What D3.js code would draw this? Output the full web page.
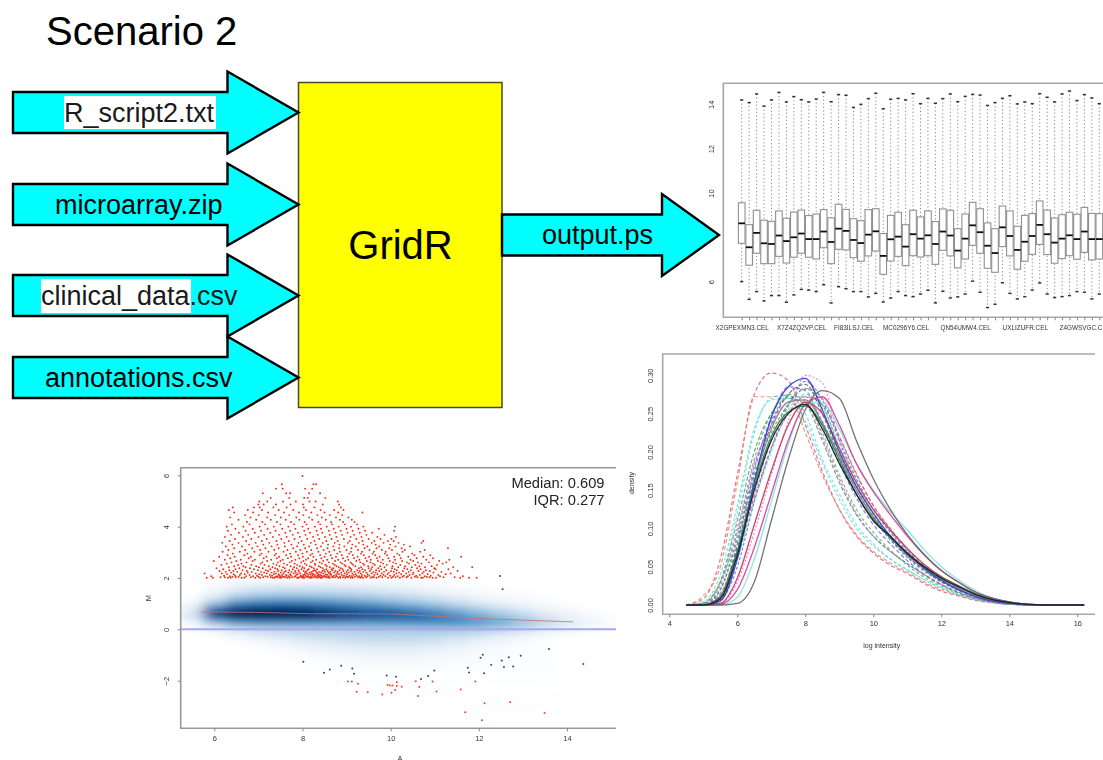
<!DOCTYPE html>
<html>
<head>
<meta charset="utf-8">
<script src="https://cdn.jsdelivr.net/npm/d3@7"></script>
<style>
  html, body { margin: 0; padding: 0; background: #fff; overflow: hidden; }
  text { font-family: "Liberation Sans", Arial, sans-serif; }
</style>
</head>
<body>
<div id="chart"></div>
<script>
// flow diagram
const inputNames = ["R_script2.txt", "microarray.zip", "clinical_data.csv", "annotations.csv"];
const inputTipY = [112.5, 204.5, 295.5, 377.5];
const inputTextX = [64, 55, 41, 45];

// boxplot, one entry per array
const boxTop = [14.20,14.08,14.47,13.92,14.20,14.54,14.11,14.35,14.21,14.11,14.24,14.54,14.12,14.44,14.41,13.86,14.00,14.26,14.50,13.80,14.23,14.27,14.20,14.48,14.03,14.27,14.05,14.26,14.47,14.12,14.36,14.45,14.42,13.95,14.08,14.27,14.39,14.02,14.11,14.03,14.48,14.32,14.11,14.47,14.60,14.17,14.44,14.29,14.03];
const boxQ3 = [9.56,8.57,9.22,8.77,8.72,9.19,8.86,9.14,9.23,8.98,9.05,9.25,8.88,9.49,9.26,8.84,8.75,9.25,9.29,8.17,8.99,9.13,8.57,9.22,8.92,9.19,8.71,9.28,9.22,8.39,9.05,9.58,9.29,8.65,8.39,9.41,9.19,8.50,8.99,9.07,9.64,9.23,8.87,9.02,9.13,9.04,9.35,9.08,9.07];
const boxMedian = [8.63,7.55,8.20,7.73,7.70,8.08,7.83,8.00,8.17,7.92,7.92,8.26,7.79,8.39,8.29,7.88,7.74,8.12,8.27,7.16,7.91,8.03,7.58,8.14,7.94,8.09,7.70,8.26,8.08,7.40,7.94,8.54,8.23,7.62,7.29,8.45,8.06,7.43,7.80,8.06,8.56,8.14,7.76,7.94,8.09,7.92,8.26,7.92,7.92];
const boxQ1 = [7.73,6.74,7.28,6.81,6.81,7.14,6.84,7.10,7.28,7.10,7.02,7.53,6.81,7.46,7.43,7.08,6.92,7.16,7.38,6.33,6.93,7.14,6.72,7.17,7.11,7.17,6.78,7.41,7.16,6.62,7.02,7.64,7.28,6.60,6.42,7.58,7.16,6.56,6.92,7.23,7.68,7.22,6.83,7.04,7.17,7.01,7.32,6.98,7.02];
const boxBottom = [6.00,5.20,5.55,5.13,5.37,5.37,5.07,5.40,5.65,5.62,5.55,5.86,5.04,5.77,5.68,5.55,5.55,5.31,5.47,5.08,5.26,5.55,5.37,5.32,5.44,5.61,5.04,5.56,5.26,5.31,5.44,6.02,5.52,4.83,4.98,5.95,5.47,5.22,5.32,5.62,5.94,5.44,5.28,5.32,5.37,5.55,5.52,5.22,5.44];
const boxLabelAt = [0, 8, 15, 22, 30, 38, 46];
const boxLabels = ["X2GPEXMN3.CEL", "X7Z4ZQ2VP.CEL", "FI83ILSJ.CEL", "MC0296Y6.CEL", "QN54UMW4.CEL", "UXLIZUFR.CEL", "Z4GWSVGC.CEL"];
const boxYTicks = [6, 8, 10, 12, 14];

// density curves, all read at the same intensities
const densityX = [4.5,5,5.5,6,6.5,7,7.5,8,8.5,9,9.5,10,10.5,11,11.5,12,12.5,13,13.5,14,15,16.2];
const densityCurves = [
  [0,.008,.06,.17,.275,.303,.293,.235,.175,.125,.09,.068,.052,.041,.028,.018,.012,.006,.003,.001,0,0],
  [0,.012,.05,.16,.272,.272,.275,.225,.17,.125,.092,.07,.055,.043,.03,.02,.013,.007,.003,.001,0,0],
  [0,.002,.03,.12,.225,.27,.274,.25,.19,.145,.105,.08,.06,.046,.033,.022,.014,.008,.004,.001,0,0],
  [0,.003,.03,.095,.19,.25,.275,.265,.225,.17,.125,.095,.072,.052,.036,.024,.015,.008,.004,.001,0,0],
  [0,0,.012,.08,.175,.245,.285,.28,.235,.185,.14,.105,.08,.058,.04,.027,.016,.009,.004,.001,0,0],
  [0,0,.002,.03,.095,.17,.24,.3,.29,.215,.16,.12,.09,.068,.048,.033,.022,.012,.006,.002,0,0],
  [0,0,.007,.06,.145,.215,.262,.283,.27,.22,.17,.13,.098,.072,.05,.034,.022,.012,.006,.002,0,0],
  [0,0,.02,.09,.18,.24,.272,.272,.24,.19,.145,.112,.085,.062,.044,.03,.019,.011,.005,.002,0,0],
  [0,.001,.02,.085,.17,.225,.262,.282,.262,.205,.155,.118,.088,.065,.046,.031,.02,.011,.005,.002,0,0],
  [0,.001,.012,.06,.135,.2,.255,.275,.258,.21,.163,.125,.095,.07,.05,.034,.022,.012,.006,.002,0,0],
  [0,.001,.015,.07,.14,.205,.25,.272,.262,.22,.172,.13,.1,.073,.052,.036,.024,.013,.006,.002,0,0],
  [0,0,.012,.075,.165,.235,.275,.288,.25,.195,.15,.115,.087,.064,.046,.031,.02,.011,.005,.002,0,0],
  [0,0,.006,.05,.135,.205,.26,.292,.268,.215,.165,.125,.095,.07,.05,.034,.022,.012,.006,.002,0,0],
  [0,.001,.025,.1,.185,.235,.265,.268,.22,.165,.12,.09,.07,.054,.04,.027,.017,.009,.004,.001,0,0],
  [0,.002,.03,.11,.2,.25,.27,.262,.215,.16,.118,.09,.07,.054,.039,.026,.017,.009,.004,.001,0,0],
  [0,.004,.04,.13,.23,.268,.27,.24,.185,.138,.1,.077,.06,.046,.033,.022,.014,.008,.004,.001,0,0],
  [0,0,0,.01,.06,.135,.21,.262,.265,.23,.185,.15,.122,.098,.072,.05,.033,.019,.009,.004,0,0],
  [0,0,.001,.02,.075,.145,.215,.262,.272,.235,.185,.148,.118,.09,.065,.045,.03,.017,.009,.004,0,0],
  [0,0,.002,.035,.105,.175,.235,.265,.25,.205,.16,.125,.098,.074,.053,.037,.025,.014,.007,.003,0,0],
  [0,0,.01,.07,.16,.23,.265,.268,.238,.195,.15,.115,.088,.065,.047,.033,.022,.012,.006,.002,0,0],
  [0,0,.01,.07,.155,.22,.252,.26,.235,.19,.145,.112,.088,.068,.05,.036,.025,.015,.008,.003,0,0],
  [0,0,.005,.06,.16,.245,.285,.296,.255,.2,.155,.12,.09,.068,.048,.032,.02,.011,.005,.002,0,0],
  [0,0,0,.002,.03,.11,.19,.255,.28,.27,.215,.165,.125,.092,.066,.045,.03,.017,.009,.004,0,0],
  [0,0,.008,.065,.15,.215,.25,.262,.23,.185,.145,.11,.09,.067,.05,.035,.024,.014,.007,.003,0,0]
];
const densityColors = ["#e0507a","#e8805a","#55dcdc","#4fae6a","#5a6fd8","#f060e0","#8a8a8a","#5a6fd8","#3f9a60","#55dcdc","#e0507a","#555555","#5a6fd8","#e858c8","#3f9a60","#55dcdc","#7fe6e6","#e0409a","#c83a50","#888888","#1f8a3a","#3a3fd0","#6a6a6a","#1c1c30"];
const densityDashes = ["4 2.5","4 2.5","3 2.5","3 2.5","4 2.5","2 2","4 2.5","3 2","3 2","3 2","4 2","4 2","3 2","3 2","4 2","3 2","","","","","","","",""];
const densityXTicks = [4, 6, 8, 10, 12, 14, 16];
const densityYTicks = [0, .05, .1, .15, .2, .25, .3];

// MA plot: smoothed point density, rows by M, columns by A
const smearA = [5.5,6,6.5,7,7.5,8,8.5,9,9.5,10,10.5,11,11.5,12,12.5,13,13.5,14,14.5,15];
const smearM = [1.75,1.5,1.25,1,.75,.5,.25,0,-.25,-.5,-.75,-1,-1.25,-1.5,-2,-2.5,-3];
const smear = [
  [0,.02,.05,.07,.08,.08,.08,.07,.06,.05,.03,.02,.01,.01,0,0,0,0,0,0],
  [0,.04,.1,.14,.16,.16,.15,.14,.12,.1,.08,.05,.03,.02,.01,.01,0,0,0,0],
  [.01,.1,.24,.3,.32,.32,.3,.27,.24,.2,.16,.12,.08,.05,.03,.02,.01,0,0,0],
  [.03,.28,.5,.56,.58,.56,.52,.47,.42,.36,.3,.24,.17,.11,.07,.04,.02,.01,0,0],
  [.1,.7,.95,1,1,.96,.85,.74,.66,.6,.52,.44,.34,.25,.17,.11,.06,.03,.01,0],
  [.12,.72,1,1,1,1,.92,.82,.74,.7,.64,.56,.48,.38,.29,.2,.12,.07,.03,.01],
  [.04,.26,.42,.46,.46,.46,.45,.44,.44,.44,.46,.46,.46,.42,.36,.27,.18,.1,.05,.02],
  [.01,.06,.14,.18,.2,.21,.21,.22,.23,.24,.25,.26,.26,.24,.2,.15,.09,.05,.02,.01],
  [0,.01,.04,.08,.11,.14,.16,.17,.18,.18,.18,.17,.15,.12,.08,.05,.02,.01,0,0],
  [0,0,.01,.03,.05,.08,.1,.12,.13,.13,.13,.12,.09,.06,.04,.02,.01,0,0,0],
  [0,0,0,.01,.02,.04,.06,.07,.08,.08,.08,.07,.05,.03,.02,.01,.01,0,0,0],
  [0,0,0,0,.01,.02,.03,.04,.05,.05,.05,.04,.03,.02,.02,.01,.01,0,0,0],
  [0,0,0,0,0,.01,.01,.02,.03,.03,.03,.02,.02,.02,.01,.01,.01,0,0,0],
  [0,0,0,0,0,0,.01,.01,.02,.02,.02,.02,.01,.01,.01,.01,.01,0,0,0],
  [0,0,0,0,0,0,0,.01,.01,.01,.01,.01,.01,.01,.01,.01,.01,0,0,0],
  [0,0,0,0,0,0,0,0,0,.01,.01,.01,0,.01,.01,.01,.01,0,0,0],
  [0,0,0,0,0,0,0,0,0,0,0,0,.01,.01,.01,.01,.01,0,0,0]
];

// red outliers above the band, A values listed per M level
const redM = [2.01,2.03,2.05,2.07,2.09,2.12,2.15,2.18,2.21,2.24,2.27,2.3,2.34,2.38,2.42,2.46,2.51,2.56,2.61,2.66,2.71,2.77,2.83,2.89,2.95,3.02,3.09,3.16,3.23,3.3,3.37,3.44,3.52,3.6,3.68,3.76,3.84,3.92,4,4.09,4.18,4.27,4.36,4.45,4.55,4.65,4.75,4.86,4.98,5.12,5.3,5.48,5.65,5.97];
const redA = [
  [5.83,5.97,6.31,6.37,6.62,6.68,6.93,7.04,7.33,7.37,7.49,7.52,7.66,7.71,7.88,7.9,8,8.04,8.17,8.21,8.33,8.41,8.44,8.58,8.62,8.81,8.86,8.97,9.09,9.14,9.31,9.37,9.55,9.68,9.94,10.02,10.21,10.47,10.69,10.73,10.95,11.03,11.58,11.78,11.95],
  [6.14,6.24,6.49,6.83,7.11,7.28,7.44,7.61,7.77,7.93,8.03,8.15,8.26,8.37,8.52,8.69,8.74,8.92,9.02,9.26,9.44,9.62,9.81,10.11,10.36,10.61,10.88,11.2,11.45],
  [6.41,6.55,7,7.21,7.39,7.55,7.58,7.82,7.97,8.09,8.12,8.29,8.46,8.55,8.67,8.85,9.04,9.19,9.34,9.59,9.73,10.05,10.27,10.55,10.82],
  [5.93,6.35,6.72,6.88,7.16,7.42,7.5,7.69,7.84,8.01,8.19,8.31,8.39,8.48,8.6,8.78,8.99,9.12,9.29,9.47,9.88,10.16,10.39,10.77,11.12,11.64],
  [6.22,6.47,6.97,7.31,7.47,7.64,7.74,7.96,8.07,8.23,8.35,8.43,8.5,8.71,8.94,9.07,9.23,9.41,9.52,9.77,9.99,10.3,10.58,10.91],
  [6.58,6.8,7.08,7.26,7.54,7.63,7.86,8.02,8.13,8.28,8.4,8.56,8.65,8.76,8.89,9.16,9.35,9.63,9.84,10.08,10.43,10.66,11.08],
  [6.29,6.44,6.69,7.02,7.35,7.46,7.72,7.89,8.05,8.18,8.25,8.36,8.53,8.64,8.83,9.01,9.21,9.48,9.7,9.93,10.24,10.5,10.84,11.25],
  [5.78,6.17,6.61,6.94,7.19,7.4,7.57,7.8,7.95,8.1,8.22,8.34,8.47,8.61,8.79,8.96,9.13,9.32,9.57,9.8,10.13,10.35,10.72,11.36],
  [6.38,6.76,7.13,7.3,7.51,7.68,7.85,8.06,8.16,8.32,8.42,8.59,8.72,8.88,9.05,9.27,9.45,9.66,9.96,10.19,10.52,10.97],
  [6.26,6.52,6.85,7.06,7.36,7.59,7.75,7.92,8.08,8.2,8.38,8.51,8.63,8.8,9,9.18,9.38,9.61,9.85,10.07,10.41,10.75,11.15],
  [6.12,6.43,6.74,7.22,7.45,7.62,7.83,8.03,8.24,8.3,8.45,8.57,8.75,8.93,9.1,9.3,9.53,9.74,10.01,10.28,10.63,10.89,11.52],
  [6.34,6.64,6.99,7.17,7.53,7.7,7.91,8.11,8.27,8.49,8.68,8.84,9.03,9.24,9.42,9.67,9.9,10.14,10.46,10.8],
  [6.2,6.48,6.9,7.27,7.43,7.78,7.98,8.14,8.33,8.54,8.66,8.91,9.11,9.36,9.56,9.79,10.09,10.38,10.68,11.02,11.31],
  [6.05,6.57,6.81,7.1,7.38,7.6,7.87,8.04,8.26,8.46,8.7,8.87,9.08,9.28,9.5,9.72,10.03,10.31,10.6,10.99],
  [6.33,6.71,7.01,7.32,7.56,7.81,8,8.21,8.41,8.62,8.82,9.06,9.33,9.58,9.86,10.17,10.48,10.78,11.42,11.85],
  [6.45,6.66,6.95,7.24,7.48,7.73,7.94,8.17,8.37,8.55,8.77,8.98,9.2,9.49,9.76,10.04,10.33,10.65,10.93],
  [6.16,6.54,6.84,7.14,7.41,7.65,7.88,8.09,8.29,8.52,8.73,8.95,9.15,9.4,9.64,9.91,10.22,10.56,11.05],
  [6.28,6.62,7.05,7.34,7.58,7.82,8.05,8.28,8.44,8.69,8.9,9.12,9.37,9.6,9.83,10.12,10.42,10.7,11.18],
  [6.39,6.73,7.09,7.44,7.71,7.97,8.19,8.39,8.6,8.86,9.09,9.31,9.54,9.78,10.06,10.37,10.62,10.87,11.26],
  [5.99,6.5,6.87,7.2,7.5,7.76,8.02,8.23,8.47,8.74,8.97,9.22,9.46,9.71,9.98,10.26,10.51,11.1],
  [6.24,6.6,6.92,7.29,7.55,7.84,8.08,8.31,8.56,8.81,9.04,9.29,9.55,9.82,10.1,10.45,10.81,11.33],
  [6.36,6.78,7.12,7.42,7.67,7.93,8.13,8.43,8.67,8.92,9.17,9.43,9.69,9.95,10.23,10.59,10.96],
  [6.11,6.46,6.83,7.18,7.47,7.74,8.01,8.25,8.5,8.76,9.02,9.25,9.51,9.75,10.08,10.4,10.74,11.6],
  [6.3,6.68,7.03,7.37,7.63,7.9,8.18,8.4,8.64,8.89,9.14,9.39,9.65,9.92,10.2,10.54,10.9],
  [6.42,6.75,7.07,7.4,7.72,8,8.22,8.53,8.79,9.06,9.33,9.59,9.87,10.15,10.49],
  [6.19,6.58,6.91,7.23,7.57,7.85,8.1,8.36,8.61,8.85,9.1,9.35,9.62,9.89,10.27,10.67],
  [6.32,6.7,7.04,7.36,7.66,7.95,8.2,8.48,8.72,9,9.26,9.52,9.8,10.03,10.32,10.77],
  [6.45,6.86,7.16,7.46,7.79,8.06,8.33,8.57,8.83,9.11,9.41,9.68,9.97,10.25,11.3],
  [6.26,6.63,6.98,7.3,7.6,7.88,8.15,8.42,8.7,8.95,9.21,9.47,9.74,10.11,10.44],
  [6.41,6.79,7.11,7.43,7.75,8.03,8.3,8.58,8.84,9.13,9.38,9.66,9.99,10.3],
  [6.18,6.55,6.94,7.25,7.59,7.91,8.19,8.46,8.73,9.03,9.28,9.57,9.84,10.18,10.7],
  [6.35,6.72,7.08,7.41,7.69,7.98,8.27,8.54,8.8,9.07,9.36,9.63,9.94,10.07,10.74],
  [6.47,6.84,7.19,7.52,7.82,8.11,8.38,8.66,8.94,9.22,9.5,9.77,10.02],
  [6.24,6.65,7,7.33,7.64,7.94,8.24,8.51,8.77,9.09,9.34,9.7,10.12],
  [6.38,6.77,7.13,7.47,7.78,8.07,8.35,8.62,8.9,9.17,9.45,9.86],
  [6.56,6.92,7.27,7.61,7.9,8.17,8.45,8.75,9.02,9.3,9.58],
  [6.31,6.71,7.06,7.39,7.72,8.04,8.32,8.6,8.87,9.14,9.42,10.08],
  [6.48,6.87,7.21,7.54,7.84,8.13,8.42,8.71,9,9.27,9.73],
  [6.28,6.66,7.03,7.35,7.68,8,8.28,8.55,8.82,9.1,9.38,10.1],
  [6.4,6.8,7.15,7.5,7.81,8.09,8.4,8.67,8.96,9.24],
  [6.74,7.09,7.42,7.74,8.05,8.36,8.65,8.92,9.18],
  [6.55,6.95,7.28,7.62,7.93,8.22,8.53,8.85,9.12],
  [6.36,6.82,7.2,7.51,7.86,8.15,8.44,8.76,9.04],
  [6.7,7.01,7.38,7.7,8.02,8.34,8.62,8.9],
  [6.45,6.88,7.22,7.58,7.92,8.2,8.5,8.81,9.36],
  [6.33,6.76,7.08,7.46,7.79,8.08,8.41,8.72,8.93],
  [6.42,6.9,7.03,7.34,7.64,8.03,8.27,8.87],
  [7,7.12,7.4,7.73,8.01,8.46,8.83],
  [7.02,7.2,7.56,7.85,8.16,8.3,8.8],
  [7.28,7.7,8.04,8.12,8.52],
  [7.1,7.63,7.72,8.15,8.4],
  [7.4,7.55,8.06,8.22],
  [7.53,8.25,8.31],
  [8]
];

const lowM = [-2.03,-2.03,-2.12,-2.43,-2.45,-2.54,-2.16,-2.19,-2.19,-2.06,-2.21,-2.24,-2.47,-2.36,-2.02,-2.25,-2.6,-2.03,-2.42,-2.34,-2.03,-3.23,-2.88,-3.54,-2.84,-3.26];
const lowA = [9.03,9.12,9.26,9.23,9.48,9.81,9.93,9.98,10.04,10.14,10.14,10.25,10.02,10.1,10.57,10.65,10.62,10.95,11.04,11.59,11.92,11.69,12.13,12.07,12.71,13.49];
const darkM = [-1.26,-1.56,-1.69,-1.42,-1.52,-1.73,-1.8,-1.85,-1.93,-1.82,-1.6,-1.5,-1.68,-1.11,-.99,-1.71,-1.38,-1.21,-1.47,-1.09,-1.45,-1.03,-.77,-1.35,1.56,2.08];
const darkA = [8.02,8.62,8.49,8.88,9.13,9.17,9.91,10.12,10.69,10.85,10.99,11.75,11.78,12.04,12.09,12.12,12.28,12.52,12.57,12.68,12.78,12.95,13.59,14.37,12.54,12.48];

const loessA = [5.71,7,8.2,10,12.03,14.14];
const loessM = [.68,.66,.61,.6,.42,.29];
const maXTicks = [6, 8, 10, 12, 14];
const maYTicks = [-2, 0, 2, 4, 6];
const maNotes = ["Median: 0.609", "IQR: 0.277"];

const svg = d3.select("#chart").append("svg")
  .attr("width", 1103)
  .attr("height", 760)
  .style("display", "block");

const defs = svg.append("defs");
function addBlur(id, dev) {
  defs.append("filter").attr("id", id)
    .attr("x", 0).attr("y", 0).attr("width", 1103).attr("height", 760)
    .attr("filterUnits", "userSpaceOnUse")
    .append("feGaussianBlur").attr("stdDeviation", dev);
}
addBlur("soft", 0.75);
addBlur("text-soft", 0.35);
addBlur("smear", "7 3");
defs.append("clipPath").attr("id", "maClip").append("rect")
  .attr("x", 181).attr("y", 468).attr("width", 435).attr("height", 260);

// style the small R axes the same way
function rAxis(g, rotate, gap) {
  g.selectAll("text").attr("font-size", 7.5).attr("fill", "#333");
  g.selectAll("line").attr("stroke", "#888");
  g.select(".domain").remove();
  if (rotate) g.selectAll("text").attr("transform", "rotate(-90)").attr("x", 0).attr("y", -gap).attr("dx", 0).attr("dy", 0).attr("text-anchor", "middle");
}

// ---- MA plot ----
const ma = svg.append("g").attr("filter", "url(#soft)");
const maX = d3.scaleLinear().domain([6, 14]).range([214.3, 567]);
const maY = d3.scaleLinear().domain([-2, 6]).range([680.7, 475.3]);
const smearColor = d3.scaleLinear()
  .domain([0, .1, .3, .6, 1])
  .range(["#ffffff", "#dde9f5", "#8dbbdd", "#1c69ad", "#04275c"]);

ma.append("g").attr("clip-path", "url(#maClip)")
  .append("g").attr("filter", "url(#smear)")
  .selectAll("g")
  .data(smear)
  .join("g")
  .each(function (row, i) {
    d3.select(this).selectAll("rect")
      .data(row.map((v, j) => ({v: v, a: smearA[j], m: smearM[i]})).filter(d => d.v > 0))
      .join("rect")
      .attr("x", d => maX(d.a - .25))
      .attr("width", maX(.5) - maX(0) + .5)
      .attr("y", d => maY(d.m + .125))
      .attr("height", maY(0) - maY(.25) + .5)
      .attr("fill", d => smearColor(d.v));
  });

ma.append("g").selectAll("circle")
  .data(redA.flatMap((row, i) => row.map(a => [a, redM[i]])))
  .join("circle")
  .attr("cx", d => maX(d[0]))
  .attr("cy", d => maY(d[1]))
  .attr("r", .95)
  .attr("fill", "#f02c14");
ma.append("g").selectAll("circle")
  .data(lowA)
  .join("circle")
  .attr("cx", d => maX(d))
  .attr("cy", (d, i) => maY(lowM[i]))
  .attr("r", 1)
  .attr("fill", "#f2452c");
ma.append("g").selectAll("circle")
  .data(darkA)
  .join("circle")
  .attr("cx", d => maX(d))
  .attr("cy", (d, i) => maY(darkM[i]))
  .attr("r", 1)
  .attr("fill", "#33475a");

ma.append("line")
  .attr("x1", 181).attr("x2", 616)
  .attr("y1", maY(0)).attr("y2", maY(0))
  .attr("stroke", "#a6a8f0").attr("stroke-width", 2);
ma.append("path")
  .attr("fill", "none")
  .attr("stroke", "#c8706e")
  .attr("stroke-width", 1)
  .attr("stroke-opacity", .8)
  .attr("d", d3.line().x(d => maX(d)).y((d, i) => maY(loessM[i]))(loessA));

ma.append("path")
  .attr("fill", "none").attr("stroke", "#999").attr("stroke-width", 1.6)
  .attr("d", "M616,467.7H180.7V728.3H616");

ma.append("g").attr("transform", "translate(0,728.3)")
  .call(d3.axisBottom(maX).tickValues(maXTicks).tickSize(3).tickFormat(d3.format("d")))
  .call(g => rAxis(g, false))
  .call(g => g.selectAll("text").attr("y", 7));
ma.append("g").attr("transform", "translate(180.7,0)")
  .call(d3.axisLeft(maY).tickValues(maYTicks).tickSize(3).tickFormat(d3.format("d")))
  .call(g => rAxis(g, true, 11.5));
ma.append("text").attr("x", 400).attr("y", 761).attr("font-size", 7.5).attr("text-anchor", "middle").attr("fill", "#333").text("A");
ma.append("text").attr("transform", "translate(151,598) rotate(-90)").attr("font-size", 7.5).attr("text-anchor", "middle").attr("fill", "#333").text("M");

svg.append("g").attr("filter", "url(#text-soft)").selectAll("text")
  .data(maNotes)
  .join("text")
  .attr("x", 604.5)
  .attr("y", (d, i) => 487.5 + i * 17)
  .attr("text-anchor", "end")
  .attr("font-size", 14.7)
  .attr("fill", "#222")
  .text(d => d);

// ---- boxplot ----
const bp = svg.append("g").attr("filter", "url(#soft)");
const bpX = d3.scaleLinear().domain([0, 48]).range([741.7, 1099.3]);
const bpY = d3.scaleLinear().domain([4.39, 14.95]).range([317.3, 83.3]);
const boxIdx = d3.range(boxMedian.length);

bp.append("path")
  .attr("fill", "none").attr("stroke", "#a8a8a8").attr("stroke-width", 1.6)
  .attr("d", "M1103,83.3H723.3V317.3H1103");

bp.append("g").selectAll("line")
  .data(boxIdx)
  .join("line")
  .attr("x1", d => bpX(d)).attr("x2", d => bpX(d))
  .attr("y1", d => bpY(boxTop[d])).attr("y2", d => bpY(boxBottom[d]))
  .attr("stroke", "#888")
  .attr("stroke-dasharray", "1.2 2.4");
bp.append("g").selectAll("rect")
  .data(boxIdx)
  .join("rect")
  .attr("x", d => bpX(d) - 3.3)
  .attr("width", 6.6)
  .attr("y", d => bpY(boxQ3[d]))
  .attr("height", d => bpY(boxQ1[d]) - bpY(boxQ3[d]))
  .attr("fill", "#fff")
  .attr("stroke", "#909090")
  .attr("stroke-width", 1.1);
bp.append("g").selectAll("line")
  .data(boxIdx)
  .join("line")
  .attr("x1", d => bpX(d) - 3.3).attr("x2", d => bpX(d) + 3.3)
  .attr("y1", d => bpY(boxMedian[d])).attr("y2", d => bpY(boxMedian[d]))
  .attr("stroke", "#111")
  .attr("stroke-width", 1.8);
[boxTop, boxBottom].forEach(ends => {
  bp.append("g").selectAll("line")
    .data(boxIdx)
    .join("line")
    .attr("x1", d => bpX(d) - 1.6).attr("x2", d => bpX(d) + 1.6)
    .attr("y1", d => bpY(ends[d])).attr("y2", d => bpY(ends[d]))
    .attr("stroke", "#333")
    .attr("stroke-width", 1.5);
});

bp.append("g").attr("transform", "translate(0,317.3)")
  .call(d3.axisBottom(bpX).tickValues(boxIdx).tickSize(3)
    .tickFormat(d => boxLabelAt.includes(d) ? boxLabels[boxLabelAt.indexOf(d)] : ""))
  .call(g => rAxis(g, false))
  .call(g => g.selectAll("text").attr("font-size", 6.4).attr("y", 8));
bp.append("g").attr("transform", "translate(723.3,0)")
  .call(d3.axisLeft(bpY).tickValues(boxYTicks).tickSize(0).tickFormat(d3.format("d")))
  .call(g => rAxis(g, true, 9));

// ---- density plot ----
const dp = svg.append("g").attr("filter", "url(#soft)");
const dpX = d3.scaleLinear().domain([4, 16]).range([669.3, 1077.3]);
const dpY = d3.scaleLinear().domain([0, .3]).range([605, 375.3]);

dp.append("path")
  .attr("fill", "none").attr("stroke", "#a8a8a8").attr("stroke-width", 1.6)
  .attr("d", "M1095,354H662.7V614.3H1095");

const densityLine = d3.line()
  .x((d, i) => dpX(densityX[i]))
  .y(d => dpY(d))
  .curve(d3.curveMonotoneX);
dp.append("g").selectAll("path")
  .data(densityCurves)
  .join("path")
  .attr("fill", "none")
  .attr("stroke", (d, i) => densityColors[i])
  .attr("stroke-width", (d, i) => i > 15 ? 1.3 : 1.2)
  .attr("stroke-opacity", (d, i) => i > 15 ? .95 : .8)
  .attr("stroke-dasharray", (d, i) => densityDashes[i])
  .attr("d", densityLine);

dp.append("g").attr("transform", "translate(0,614.3)")
  .call(d3.axisBottom(dpX).tickValues(densityXTicks).tickSize(3).tickFormat(d3.format("d")))
  .call(g => rAxis(g, false))
  .call(g => g.selectAll("text").attr("y", 6));
dp.append("g").attr("transform", "translate(662.7,0)")
  .call(d3.axisLeft(dpY).tickValues(densityYTicks).tickSize(0).tickFormat(d3.format(".2f")))
  .call(g => rAxis(g, true, 10));
dp.append("text").attr("x", 881.7).attr("y", 648).attr("font-size", 7).attr("text-anchor", "middle").attr("fill", "#333").text("log intensity");
dp.append("text").attr("transform", "translate(634,483) rotate(-90)").attr("font-size", 7).attr("text-anchor", "middle").attr("fill", "#333").text("density");

// ---- flow diagram ----
const arrowPath = d3.line();
function arrow(left, neck, tip, cy, half, head) {
  return arrowPath([[left, cy - half], [neck, cy - half], [neck, cy - head], [tip, cy], [neck, cy + head], [neck, cy + half], [left, cy + half]]) + "Z";
}
const flow = svg.append("g");

flow.append("rect")
  .attr("x", 298.5).attr("y", 82.5).attr("width", 203.5).attr("height", 325)
  .attr("fill", "#ffff00").attr("stroke", "#4a4a20").attr("stroke-width", 1.5);

flow.selectAll("path.input")
  .data(inputTipY)
  .join("path")
  .attr("class", "input")
  .attr("d", d => arrow(13, 227.5, 298.5, d, 20.5, 41))
  .attr("fill", "#00ffff")
  .attr("stroke", "#000")
  .attr("stroke-width", 2.4)
  .attr("stroke-linejoin", "miter");

flow.append("path")
  .attr("d", arrow(502, 662, 719, 235, 20.5, 41))
  .attr("fill", "#00ffff")
  .attr("stroke", "#000")
  .attr("stroke-width", 2.4);

// highlighted bits of text pasted in with a white background
flow.append("rect").attr("x", 64).attr("y", 96).attr("width", 152).attr("height", 33).attr("fill", "#fff");
flow.append("rect").attr("x", 41).attr("y", 279).attr("width", 150).attr("height", 34).attr("fill", "#fff");

flow.selectAll("text.input")
  .data(inputNames)
  .join("text")
  .attr("class", "input")
  .attr("x", (d, i) => inputTextX[i])
  .attr("y", (d, i) => inputTipY[i] + 9.5)
  .attr("font-size", 27)
  .attr("fill", (d, i) => i === 0 || i === 2 ? "#1a1a1a" : "#000")
  .text(d => d);

flow.append("text").attr("x", 542).attr("y", 244).attr("font-size", 27).text("output.ps");
flow.append("text").attr("x", 400.5).attr("y", 259).attr("font-size", 40).attr("text-anchor", "middle").text("GridR");
flow.append("text").attr("x", 46).attr("y", 45).attr("font-size", 40).text("Scenario 2");
</script>
</body>
</html>
